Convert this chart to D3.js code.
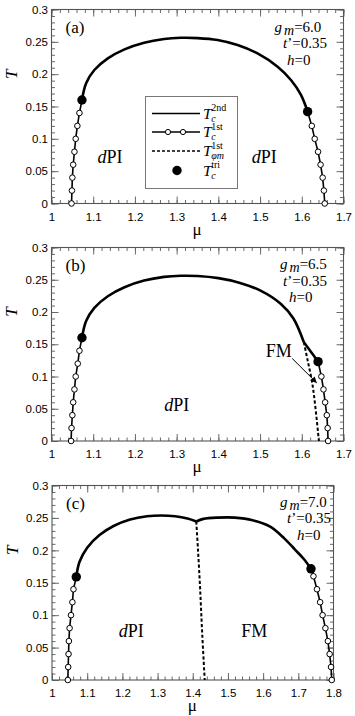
<!DOCTYPE html>
<html><head><meta charset="utf-8">
<script src="https://cdn.jsdelivr.net/npm/d3@7"></script>
<style>body{margin:0;background:#fff}svg{display:block}</style>
</head><body>
<svg id="chart" width="355" height="716"></svg>
<script>
// ---------------- data ----------------
const yTickValues = [0, 0.05, 0.1, 0.15, 0.2, 0.25, 0.3];
const yTickLabels = ["0", "0.05", "0.1", "0.15", "0.2", "0.25", "0.3"];
const xTickValuesAB = [1, 1.1, 1.2, 1.3, 1.4, 1.5, 1.6, 1.7];
const xTickLabelsAB = ["1", "1.1", "1.2", "1.3", "1.4", "1.5", "1.6", "1.7"];
const xTickValuesC = [1, 1.1, 1.2, 1.3, 1.4, 1.5, 1.6, 1.7, 1.8];
const xTickLabelsC = ["1", "1.1", "1.2", "1.3", "1.4", "1.5", "1.6", "1.7", "1.8"];

// panel (a) g_m = 6.0
const aSecondMu = [1.073, 1.083, 1.1027, 1.135, 1.175, 1.222, 1.27, 1.31, 1.35, 1.398, 1.446, 1.494, 1.542, 1.574, 1.598, 1.614];
const aSecondT  = [0.16, 0.186, 0.2064, 0.2245, 0.2384, 0.2487, 0.2544, 0.2562, 0.2558, 0.2528, 0.245, 0.232, 0.2115, 0.191, 0.168, 0.142];
const aLeftFirstMu  = [1.067, 1.062, 1.058, 1.055, 1.052, 1.05, 1.049, 1.048];
const aLeftFirstT   = [0.14, 0.12, 0.1, 0.08, 0.06, 0.04, 0.02, 0];
const aRightFirstMu = [1.624, 1.631, 1.639, 1.645, 1.65, 1.653, 1.655];
const aRightFirstT  = [0.12, 0.1, 0.08, 0.06, 0.04, 0.02, 0];
const aTriMu = [1.073, 1.614];
const aTriT  = [0.16, 0.142];

// panel (b) g_m = 6.5
const bSecondMu = [1.073, 1.083, 1.1027, 1.135, 1.175, 1.222, 1.27, 1.31, 1.35, 1.4, 1.45, 1.5, 1.55, 1.58, 1.605];
const bSecondT  = [0.16, 0.186, 0.2064, 0.2245, 0.2384, 0.2487, 0.2544, 0.2562, 0.2558, 0.2525, 0.2455, 0.2335, 0.2125, 0.19, 0.153];
const bSecondTailMu = [1.605, 1.62, 1.639];
const bSecondTailT  = [0.153, 0.14, 0.123];
const bDashMu = [1.605, 1.614, 1.625, 1.633, 1.641];
const bDashT  = [0.153, 0.125, 0.09, 0.05, 0];
const bLeftFirstMu  = [1.067, 1.063, 1.058, 1.055, 1.052, 1.05, 1.048, 1.047];
const bLeftFirstT   = [0.14, 0.12, 0.1, 0.08, 0.06, 0.04, 0.02, 0];
const bRightFirstMu = [1.647, 1.652, 1.656, 1.66, 1.662, 1.663];
const bRightFirstT  = [0.1, 0.08, 0.06, 0.04, 0.02, 0];
const bTriMu = [1.073, 1.639];
const bTriT  = [0.16, 0.123];

// panel (c) g_m = 7.0
const cSecondLeftMu = [1.069, 1.078, 1.1, 1.135, 1.175, 1.222, 1.27, 1.31, 1.35, 1.385, 1.41];
const cSecondLeftT  = [0.159, 0.182, 0.204, 0.2235, 0.2375, 0.2475, 0.2525, 0.2538, 0.2525, 0.249, 0.2445];
const cSecondRightMu = [1.41, 1.43, 1.47, 1.52, 1.57, 1.62, 1.66, 1.69, 1.715, 1.736];
const cSecondRightT  = [0.2445, 0.2485, 0.2505, 0.2505, 0.2465, 0.2365, 0.2185, 0.2015, 0.187, 0.1715];
const cDashMu = [1.41, 1.415, 1.421, 1.427, 1.434];
const cDashT  = [0.2445, 0.2, 0.14, 0.07, 0];
const cLeftFirstMu  = [1.061, 1.058, 1.054, 1.05, 1.048, 1.047, 1.046, 1.045];
const cLeftFirstT   = [0.14, 0.12, 0.1, 0.08, 0.06, 0.04, 0.02, 0];
const cRightFirstMu = [1.743, 1.753, 1.762, 1.769, 1.777, 1.784, 1.789, 1.793, 1.795];
const cRightFirstT  = [0.16, 0.14, 0.12, 0.1, 0.08, 0.06, 0.04, 0.02, 0];
const cTriMu = [1.069, 1.736];
const cTriT  = [0.159, 0.1715];

const panelLabels = ["(a)", "(b)", "(c)"];
const gmValues = ["6.0", "6.5", "7.0"];
const tpValue = "0.35";
const hValue = "0";
const legendSubs = ["c", "c", "φm", "c"];
const legendSups = ["2nd", "1st", "1st", "tri"];

// ---------------- drawing ----------------
const svg = d3.select("#chart");
const SERIF = "'Liberation Serif','Times New Roman',serif";
const SANS = "'Liberation Sans',Arial,Helvetica,sans-serif";
const pts = (mu, t) => d3.zip(mu, t);
const range = (a, b, s) => d3.range(Math.round((b - a) / s) + 1).map(i => +(a + i * s).toFixed(4));

function panel(cfg) {
  const g = svg.append("g");
  const x = d3.scaleLinear().domain(cfg.xDomain).range([cfg.left, cfg.right]);
  const y = d3.scaleLinear().domain([0, 0.3]).range([cfg.bottom, cfg.top]);
  const TICK = "#6a6a6a";

  const styleAxis = sel => {
    sel.select(".domain").remove();
    sel.selectAll(".tick line").attr("stroke", TICK).attr("stroke-width", 1);
    sel.selectAll("text").attr("font-family", SANS).attr("font-size", 11.5).attr("fill", "#000");
  };
  const xMinor = range(cfg.xDomain[0], cfg.xDomain[1], 0.02);
  const yMinor = range(0, 0.3, 0.01);

  // minor ticks
  g.append("g").attr("transform", `translate(0,${cfg.bottom})`)
    .call(d3.axisBottom(x).tickValues(xMinor).tickSize(-3.5).tickFormat("")).call(styleAxis);
  g.append("g").attr("transform", `translate(0,${cfg.top})`)
    .call(d3.axisTop(x).tickValues(xMinor).tickSize(-3.5).tickFormat("")).call(styleAxis);
  g.append("g").attr("transform", `translate(${cfg.left},0)`)
    .call(d3.axisLeft(y).tickValues(yMinor).tickSize(-3.5).tickFormat("")).call(styleAxis);
  g.append("g").attr("transform", `translate(${cfg.right},0)`)
    .call(d3.axisRight(y).tickValues(yMinor).tickSize(-3.5).tickFormat("")).call(styleAxis);
  // major ticks
  g.append("g").attr("transform", `translate(0,${cfg.bottom})`)
    .call(d3.axisBottom(x).tickValues(cfg.xTicks).tickSize(-7).tickPadding(9)
      .tickFormat((d, i) => cfg.xLabels[i])).call(styleAxis);
  g.append("g").attr("transform", `translate(0,${cfg.top})`)
    .call(d3.axisTop(x).tickValues(cfg.xTicks).tickSize(-7).tickFormat("")).call(styleAxis);
  g.append("g").attr("transform", `translate(${cfg.left},0)`)
    .call(d3.axisLeft(y).tickValues(yTickValues).tickSize(-7).tickPadding(3.5)
      .tickFormat((d, i) => yTickLabels[i])).call(styleAxis);
  g.append("g").attr("transform", `translate(${cfg.right},0)`)
    .call(d3.axisRight(y).tickValues(yTickValues).tickSize(-7).tickFormat("")).call(styleAxis);

  // frame
  g.append("rect").attr("x", cfg.left).attr("y", cfg.top)
    .attr("width", cfg.right - cfg.left).attr("height", cfg.bottom - cfg.top)
    .attr("fill", "none").attr("stroke", "#555").attr("stroke-width", 1.1);

  // axis titles
  g.append("text").attr("x", (cfg.left + cfg.right) / 2 - 0.5).attr("y", cfg.bottom + 31)
    .attr("text-anchor", "middle").attr("font-family", SERIF).attr("font-size", 17).text("μ");
  g.append("text").attr("transform", `translate(${cfg.left - 40},${y(0.2)}) rotate(-90)`)
    .attr("text-anchor", "middle").attr("font-family", SERIF).attr("font-style", "italic")
    .attr("font-size", 17).attr("dy", "0.35em").text("T");

  const smooth = d3.line().x(d => x(d[0])).y(d => y(d[1])).curve(d3.curveCatmullRom.alpha(0.5));
  const straight = d3.line().x(d => x(d[0])).y(d => y(d[1]));

  // dashed lines
  (cfg.dashed || []).forEach(d => {
    g.append("path").attr("d", smooth(d)).attr("fill", "none").attr("stroke", "#000")
      .attr("stroke-width", 2).attr("stroke-dasharray", "3.2,2.2");
  });
  // second-order lines
  cfg.second.forEach(d => {
    g.append("path").attr("d", smooth(d)).attr("fill", "none").attr("stroke", "#000")
      .attr("stroke-width", 2.6).attr("stroke-linejoin", "round");
  });
  // first-order lines with open circles
  cfg.first.forEach(f => {
    g.append("path").attr("d", straight([f.tri].concat(f.pts))).attr("fill", "none")
      .attr("stroke", "#000").attr("stroke-width", 1.6);
    g.selectAll(null).data(f.pts).join("circle")
      .attr("cx", d => x(d[0])).attr("cy", d => y(d[1])).attr("r", 2.8)
      .attr("fill", "#fff").attr("stroke", "#000").attr("stroke-width", 1);
  });
  // tricritical points
  g.selectAll(null).data(cfg.tri).join("circle")
    .attr("cx", d => x(d[0])).attr("cy", d => y(d[1])).attr("r", 4.7).attr("fill", "#000");

  // panel label
  g.append("text").attr("x", x(cfg.xDomain[0]) + 14).attr("y", cfg.top + 23.5)
    .attr("font-family", SERIF).attr("font-size", 17).text(cfg.label);

  // parameter annotations
  const ann = cfg.ann;
  const t1 = g.append("text").attr("x", ann.gx).attr("y", ann.y0).attr("font-family", SERIF).attr("font-size", 15);
  t1.append("tspan").attr("font-style", "italic").text("g");
  t1.append("tspan").attr("font-style", "italic").attr("dx", 2).attr("dy", 3).attr("font-size", 14).text("m");
  t1.append("tspan").attr("dy", -3).text("=" + cfg.gm);
  const t2 = g.append("text").attr("x", ann.tx).attr("y", ann.y0 + 16.5).attr("font-family", SERIF).attr("font-size", 15);
  t2.append("tspan").attr("font-style", "italic").text("t");
  t2.append("tspan").text("’=" + tpValue);
  const t3 = g.append("text").attr("x", ann.hx).attr("y", ann.y0 + 33).attr("font-family", SERIF).attr("font-size", 15);
  t3.append("tspan").attr("font-style", "italic").text("h");
  t3.append("tspan").text("=" + hValue);

  // phase labels
  (cfg.phases || []).forEach(p => {
    const t = g.append("text").attr("x", x(p.mu)).attr("y", y(p.t)).attr("text-anchor", "middle")
      .attr("font-family", SERIF).attr("font-size", 18);
    if (p.italicD) { t.append("tspan").attr("font-style", "italic").text("d"); t.append("tspan").text("PI"); }
    else t.text(p.text);
  });

  return { g, x, y };
}

// panel (a)
const A = panel({
  left: 51.5, right: 343.5, top: 9.5, bottom: 203.5, xDomain: [1, 1.7],
  xTicks: xTickValuesAB, xLabels: xTickLabelsAB, label: panelLabels[0], gm: gmValues[0],
  ann: { gx: 274.5, tx: 283, hx: 287, y0: 31.5 },
  second: [pts(aSecondMu, aSecondT)],
  first: [
    { tri: [aTriMu[0], aTriT[0]], pts: pts(aLeftFirstMu, aLeftFirstT) },
    { tri: [aTriMu[1], aTriT[1]], pts: pts(aRightFirstMu, aRightFirstT) }
  ],
  tri: pts(aTriMu, aTriT),
  phases: [{ mu: 1.14, t: 0.062, italicD: true }, { mu: 1.51, t: 0.062, italicD: true }]
});

// legend in panel (a)
(function legend() {
  const g = svg.append("g");
  g.append("rect").attr("x", 145.5).attr("y", 96.5).attr("width", 92).attr("height", 92)
    .attr("fill", "#fff").attr("stroke", "#777").attr("stroke-width", 1);
  const rows = [113.5, 132, 151, 170.5];
  const lx0 = 152, lx1 = 200;
  g.append("line").attr("x1", lx0).attr("x2", lx1).attr("y1", rows[0]).attr("y2", rows[0])
    .attr("stroke", "#000").attr("stroke-width", 1.6);
  g.append("line").attr("x1", lx0).attr("x2", lx1).attr("y1", rows[1]).attr("y2", rows[1])
    .attr("stroke", "#000").attr("stroke-width", 1.3);
  [168, 183].forEach(cx => g.append("circle").attr("cx", cx).attr("cy", rows[1]).attr("r", 2.6)
    .attr("fill", "#fff").attr("stroke", "#000").attr("stroke-width", 1));
  g.append("line").attr("x1", lx0).attr("x2", lx1).attr("y1", rows[2]).attr("y2", rows[2])
    .attr("stroke", "#000").attr("stroke-width", 1.6).attr("stroke-dasharray", "3,2");
  g.append("circle").attr("cx", 177).attr("cy", rows[3]).attr("r", 4.7).attr("fill", "#000");
  rows.forEach((r, i) => {
    const t = g.append("text").attr("x", 203).attr("y", r + 5).attr("font-family", SERIF).attr("font-size", 15.5);
    t.append("tspan").attr("font-style", "italic").text("T");
    const sub = t.append("tspan").attr("font-style", "italic").attr("font-size", 10)
      .attr("dx", -0.5).attr("dy", 3).text(legendSubs[i]);
    const w = sub.node().getComputedTextLength();
    t.append("tspan").attr("font-size", 10).attr("dx", -w).attr("dy", -10.5).text(legendSups[i]);
  });
})();

// panel (b)
const B = panel({
  left: 51.5, right: 343.5, top: 247.5, bottom: 441, xDomain: [1, 1.7],
  xTicks: xTickValuesAB, xLabels: xTickLabelsAB, label: panelLabels[1], gm: gmValues[1],
  ann: { gx: 280, tx: 283, hx: 289, y0: 269 },
  second: [pts(bSecondMu, bSecondT), pts(bSecondTailMu, bSecondTailT)],
  dashed: [pts(bDashMu, bDashT)],
  first: [
    { tri: [bTriMu[0], bTriT[0]], pts: pts(bLeftFirstMu, bLeftFirstT) },
    { tri: [bTriMu[1], bTriT[1]], pts: pts(bRightFirstMu, bRightFirstT) }
  ],
  tri: pts(bTriMu, bTriT),
  phases: [{ mu: 1.3, t: 0.046, italicD: true }, { mu: 1.545, t: 0.131, text: "FM" }]
});
// FM arrow in panel (b)
svg.append("defs").append("marker").attr("id", "ah").attr("viewBox", "0 0 10 10")
  .attr("refX", 10).attr("refY", 5).attr("markerWidth", 8).attr("markerHeight", 6)
  .attr("markerUnits", "userSpaceOnUse").attr("orient", "auto")
  .append("path").attr("d", "M0,0L10,5L0,10z").attr("fill", "#000");
B.g.append("line").attr("x1", B.x(1.577)).attr("y1", B.y(0.128))
  .attr("x2", B.x(1.636)).attr("y2", B.y(0.09))
  .attr("stroke", "#000").attr("stroke-width", 1).attr("marker-end", "url(#ah)");

// panel (c)
panel({
  left: 52, right: 333.5, top: 485.5, bottom: 680, xDomain: [1, 1.8],
  xTicks: xTickValuesC, xLabels: xTickLabelsC, label: panelLabels[2], gm: gmValues[2],
  ann: { gx: 280, tx: 287, hx: 297, y0: 506.5 },
  second: [pts(cSecondLeftMu, cSecondLeftT), pts(cSecondRightMu, cSecondRightT)],
  dashed: [pts(cDashMu, cDashT)],
  first: [
    { tri: [cTriMu[0], cTriT[0]], pts: pts(cLeftFirstMu, cLeftFirstT) },
    { tri: [cTriMu[1], cTriT[1]], pts: pts(cRightFirstMu, cRightFirstT) }
  ],
  tri: pts(cTriMu, cTriT),
  phases: [{ mu: 1.225, t: 0.066, italicD: true }, { mu: 1.575, t: 0.066, text: "FM" }]
});
</script>
</body></html>
